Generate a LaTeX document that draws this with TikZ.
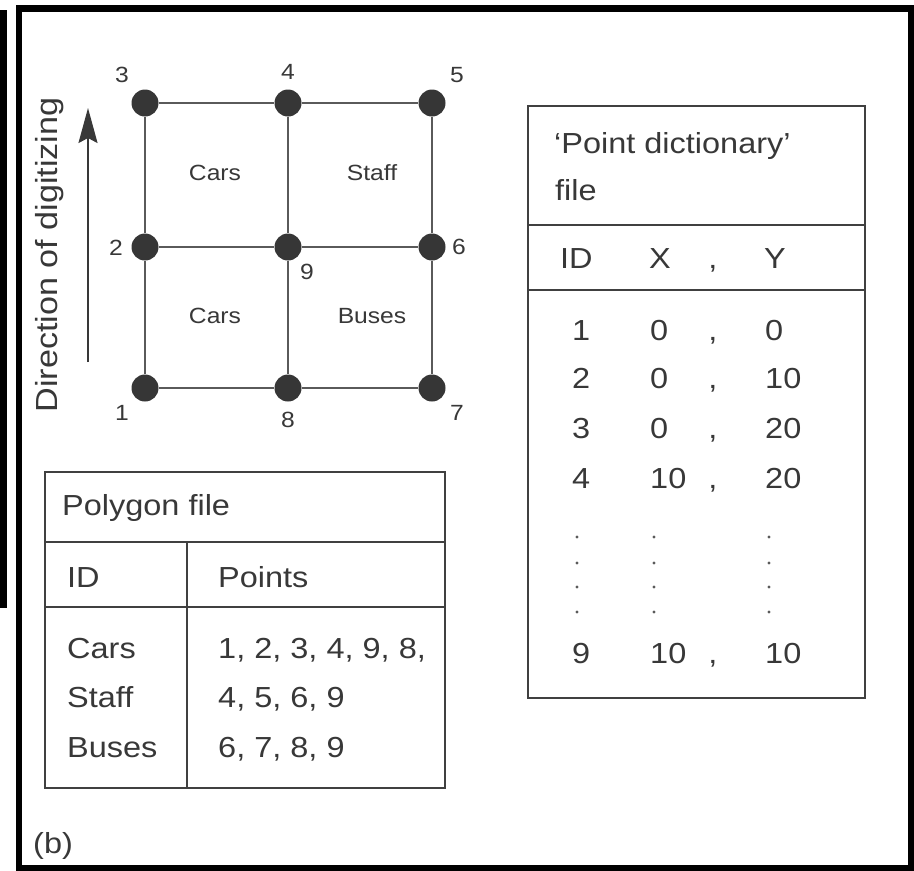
\documentclass[tikz,border=0pt]{standalone}
\usepackage{fontspec}
\setmainfont{Liberation Sans}[FakeStretch=1.12]
\usetikzlibrary{arrows.meta}

\definecolor{ink}{HTML}{383838}
\definecolor{rule}{HTML}{404040}
\definecolor{edge}{HTML}{5A5A5A}
\definecolor{dot}{HTML}{363636}

\newcommand\tabfont{\fontsize{29}{34}\selectfont}
\newcommand\gridfont{\fontsize{22}{26}\selectfont}
\newcommand\dirfont{\fontsize{30.5}{36}\selectfont}

\tikzset{
  vertex/.style={circle, fill=dot, draw=none, minimum size=27pt, inner sep=0pt},
  link/.style={draw=edge, line width=2.4pt},
  lbl/.style={inner sep=0pt, text=ink, font=\gridfont},
  cell/.style={inner sep=0pt, anchor=base west, text=ink, font=\tabfont},
  cellc/.style={inner sep=0pt, anchor=base, text=ink, font=\tabfont},
  tabline/.style={draw=rule, line width=2.5pt},
  ellipsisdot/.style={circle, fill=edge, inner sep=0pt, minimum size=3.4pt}
}

\begin{document}
\begin{tikzpicture}[x=1pt, y=-1pt]
\useasboundingbox (0,0) rectangle (914,871);
\fill[white] (0,0) rectangle (914,871);

% page frame and the side bar on the left
\fill[black] (0,10) rectangle (7,608);
\draw[black, line width=6.5pt] (19,8.5) rectangle (911,868);

% grid of digitized points
\node[vertex] (p3) at (145,103) {};
\node[vertex] (p4) at (288,103) {};
\node[vertex] (p5) at (432,103) {};
\node[vertex] (p2) at (145,247) {};
\node[vertex] (p9) at (288,247) {};
\node[vertex] (p6) at (432,247) {};
\node[vertex] (p1) at (145,388) {};
\node[vertex] (p8) at (288,388) {};
\node[vertex] (p7) at (432,388) {};

\draw[link] (p3) -- (p4);
\draw[link] (p4) -- (p5);
\draw[link] (p5) -- (p6);
\draw[link] (p6) -- (p7);
\draw[link] (p7) -- (p8);
\draw[link] (p8) -- (p1);
\draw[link] (p1) -- (p2);
\draw[link] (p2) -- (p3);
\draw[link] (p2) -- (p9);
\draw[link] (p9) -- (p6);
\draw[link] (p4) -- (p9);
\draw[link] (p9) -- (p8);

% point numbers
\node[lbl] (n3) at (122,75) {3};
\node[lbl] (n4) at (288,72) {4};
\node[lbl] (n5) at (457,75) {5};
\node[lbl] (n2) at (116,248) {2};
\node[lbl] (n6) at (459,247) {6};
\node[lbl] (n9) at (307,272) {9};
\node[lbl] (n1) at (122,413) {1};
\node[lbl] (n8) at (288,420) {8};
\node[lbl] (n7) at (457,413) {7};

% polygon names
\node[lbl] (cars1) at (215,173) {Cars};
\node[lbl] (staff) at (372,173) {Staff};
\node[lbl] (cars2) at (215,316) {Cars};
\node[lbl] (buses) at (372,316) {Buses};

% direction of digitizing
\coordinate (dirlow) at (88,362);
\coordinate (dirhigh) at (88,108);
\draw[draw=ink, line width=2pt, -{Stealth[length=35pt, width=19pt, inset=5pt]}] (dirlow) -- (dirhigh);
\node[inner sep=0pt, anchor=base, rotate=90, text=ink, font=\dirfont] (dirtext) at (57,255) {Direction of digitizing};

% polygon file table
\draw[tabline] (45,472) rectangle (445,788);
\draw[tabline] (45,542) -- (445,542);
\draw[tabline] (45,607) -- (445,607);
\draw[tabline] (187,542) -- (187,788);
\node[cell] (ptitle) at (62,515) {Polygon file};
\node[cell] (pid) at (67,587) {ID};
\node[cell] (ppts) at (218,587) {Points};
\node[cell] (rcars) at (67,658) {Cars};
\node[cell] (rstaff) at (67,707) {Staff};
\node[cell] (rbuses) at (67,757) {Buses};
\node[cell] (vcars) at (218,658) {1, 2, 3, 4, 9, 8,};
\node[cell] (vstaff) at (218,707) {4, 5, 6, 9};
\node[cell] (vbuses) at (218,757) {6, 7, 8, 9};

% point dictionary table
\draw[tabline] (528,106) rectangle (865,698);
\draw[tabline] (528,225) -- (865,225);
\draw[tabline] (528,290) -- (865,290);
\node[cell] (dtitle) at (554,153) {`Point dictionary'};
\node[cell] (dfile) at (555,200) {file};
\node[cell] (did) at (560,268) {ID};
\node[cellc] (dx) at (660,268) {X};
\node[cellc] (dcomma) at (713,268) {,};
\node[cellc] (dy) at (775,268) {Y};

\node[cell] (i1) at (572,340) {1};
\node[cell] (x1) at (650,340) {0};
\node[cellc] (c1) at (713,340) {,};
\node[cell] (y1) at (765,340) {0};

\node[cell] (i2) at (572,388) {2};
\node[cell] (x2) at (650,388) {0};
\node[cellc] (c2) at (713,388) {,};
\node[cell] (y2) at (765,388) {10};

\node[cell] (i3) at (572,438) {3};
\node[cell] (x3) at (650,438) {0};
\node[cellc] (c3) at (713,438) {,};
\node[cell] (y3) at (765,438) {20};

\node[cell] (i4) at (572,488) {4};
\node[cell] (x4) at (650,488) {10};
\node[cellc] (c4) at (713,488) {,};
\node[cell] (y4) at (765,488) {20};

\foreach \yy [count=\k] in {537,563,587,612} {
  \node[ellipsisdot] (ea\k) at (577,\yy) {};
  \node[ellipsisdot] (eb\k) at (654,\yy) {};
  \node[ellipsisdot] (ec\k) at (769,\yy) {};
}

\node[cell] (i9) at (572,663) {9};
\node[cell] (x9) at (650,663) {10};
\node[cellc] (c9) at (713,663) {,};
\node[cell] (y9) at (765,663) {10};

% panel letter
\node[cell] (panel) at (33,853) {(b)};
\end{tikzpicture}
\end{document}
